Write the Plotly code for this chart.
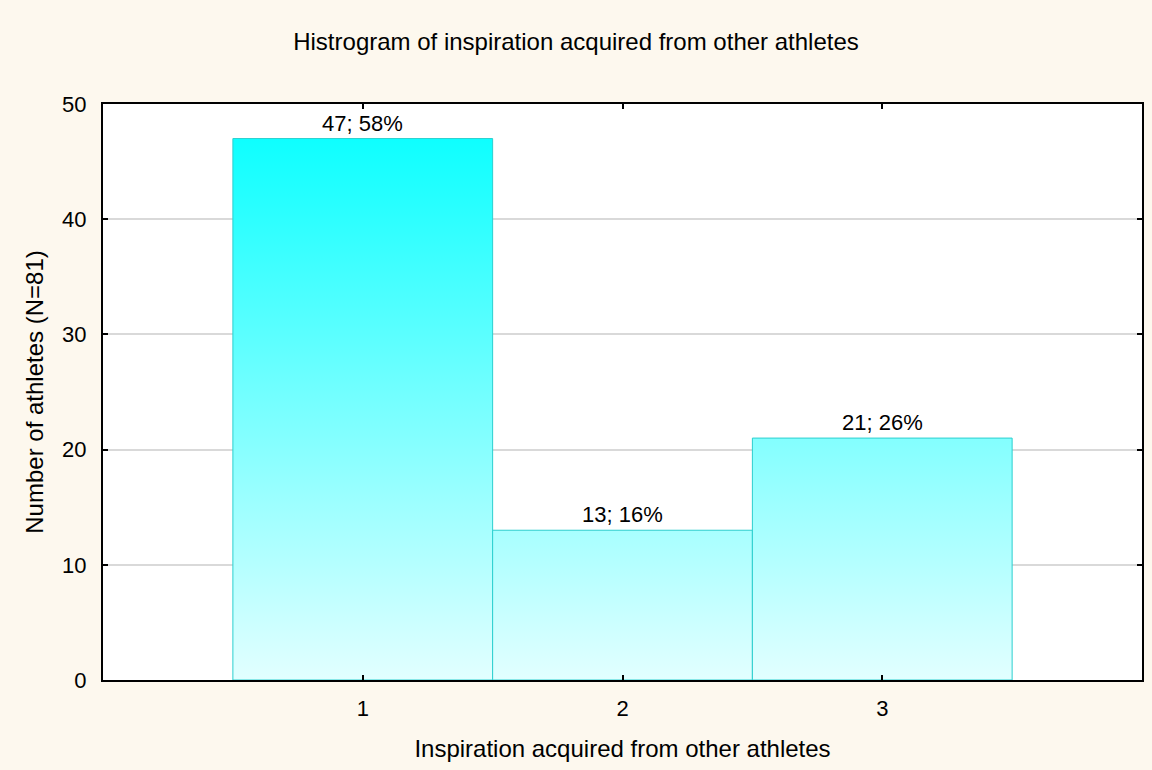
import plotly.graph_objects as go

categories = [1, 2, 3]
counts = [47, 13, 21]
n_total = 81
x_ticks = [1, 2, 3]
y_ticks = [0, 10, 20, 30, 40, 50]

FONT = "Liberation Sans, Arial, sans-serif"
BG = "#FDF8EE"
fig = go.Figure()
top = max(counts)
for c, v in zip(categories, counts):
    xs = [c - 0.5, c - 0.5, c + 0.5, c + 0.5, c - 0.5]
    ys = [0, v, v, 0, 0]
    fig.add_trace(go.Scatter(
        x=xs, y=ys, mode="lines", fill="toself",
        line=dict(color="#2CCFCF", width=1),
        fillgradient=dict(type="vertical",
                          colorscale=[[0, "#E2FFFF"], [1, "#0EFFFF"]],
                          start=0, stop=top),
        showlegend=False, hoverinfo="skip"))
    pct = round(100 * v / n_total)
    fig.add_annotation(x=c, y=v, text=f"{v}; {pct}%", showarrow=False,
                       yanchor="bottom", yshift=1,
                       font=dict(family=FONT, size=22, color="black"))

fig.update_layout(
    width=1152, height=770,
    paper_bgcolor=BG, plot_bgcolor="white",
    margin=dict(l=103, r=8, t=104, b=90),
    title=dict(text="Histrogram of inspiration acquired from other athletes",
               x=0.5, xanchor="center", y=1 - 42 / 770, yanchor="middle",
               font=dict(family=FONT, size=24, color="black")),
    font=dict(family=FONT, color="black"),
)
fig.update_xaxes(range=[0, 4], tickvals=x_ticks, ticktext=[str(t) for t in x_ticks],
                 showgrid=False, zeroline=False,
                 showline=True, linecolor="black", linewidth=2, mirror="ticks",
                 ticks="inside", ticklen=5, tickwidth=1.5, tickcolor="black",
                 ticklabelstandoff=8,
                 tickfont=dict(size=22, family=FONT),
                 title=dict(text="Inspiration acquired from other athletes",
                            font=dict(size=24, family=FONT), standoff=20))
fig.update_yaxes(range=[0, 50], tickvals=y_ticks,
                 showgrid=True, gridcolor="#D9D9D9", gridwidth=1.5, zeroline=False,
                 showline=True, linecolor="black", linewidth=2, mirror="ticks",
                 ticks="inside", ticklen=5, tickwidth=1.5, tickcolor="black",
                 ticklabelstandoff=10,
                 tickfont=dict(size=22, family=FONT),
                 title=dict(text="Number of athletes (N=81)",
                            font=dict(size=24, family=FONT), standoff=12))

fig.write_html(
    "out.html",
    config={"displayModeBar": False},
    post_script=f"document.body.style.margin='0';document.body.style.background='{BG}';",
)
